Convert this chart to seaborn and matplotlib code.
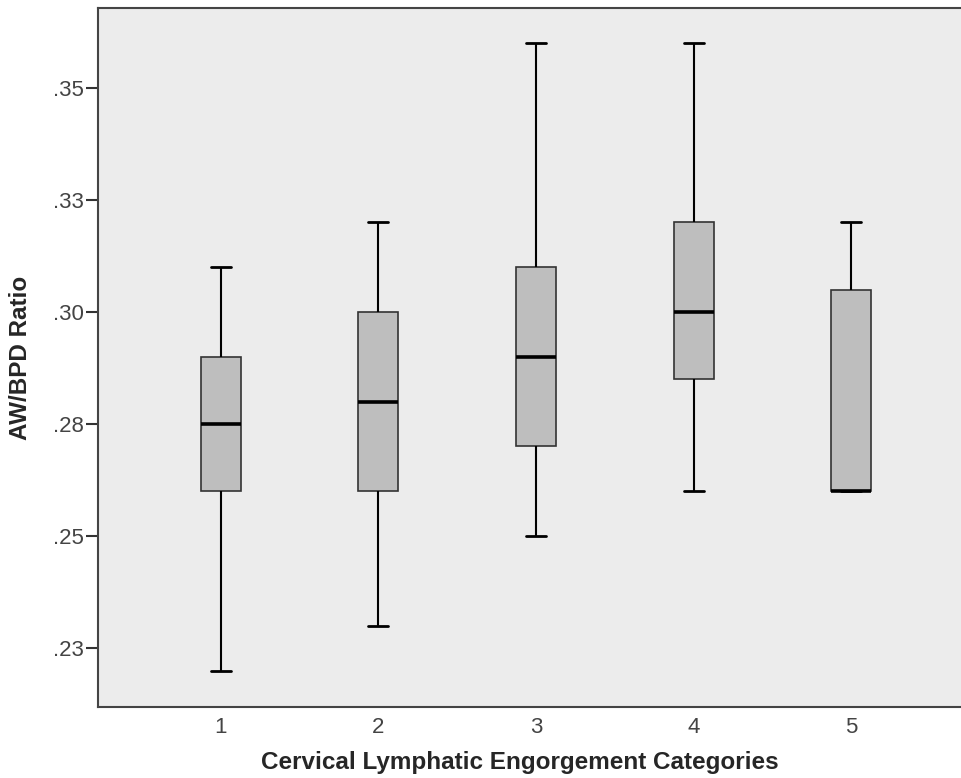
import numpy as np
import pandas as pd
import matplotlib
matplotlib.use("Agg")
import matplotlib.pyplot as plt
import seaborn as sns

# five-number summaries (min, Q1, median, Q3, max)
categories = ["1", "2", "3", "4", "5"]
lo_whisker = [0.220, 0.230, 0.250, 0.260, 0.260]
q1 = [0.260, 0.260, 0.270, 0.285, 0.260]
median = [0.275, 0.280, 0.290, 0.300, 0.260]
q3 = [0.290, 0.300, 0.310, 0.320, 0.305]
hi_whisker = [0.310, 0.320, 0.360, 0.360, 0.320]

ytick_vals = [0.225, 0.25, 0.275, 0.30, 0.325, 0.35]
ytick_labels = [".23", ".25", ".28", ".30", ".33", ".35"]

# build a small long table: 5 points per group give exactly these quartiles
rows = []
for i, cat in enumerate(categories):
    for v in [lo_whisker[i], q1[i], median[i], q3[i], hi_whisker[i]]:
        rows.append({"category": cat, "ratio": v})
df = pd.DataFrame(rows)

sns.set_style("white")
plt.rcParams["font.family"] = ["Liberation Sans", "DejaVu Sans"]

fig = plt.figure(figsize=(9.62, 7.78), dpi=100)
ax = fig.add_axes([0.1019, 0.0913, 0.9106, 0.8984])
ax.set_facecolor("#ECECEC")

sns.boxplot(data=df, x="category", y="ratio", order=categories, whis=np.inf,
            width=0.254, color="#BEBEBE", ax=ax,
            boxprops=dict(edgecolor="#333333", linewidth=1.2),
            whiskerprops=dict(color="black", linewidth=1.5),
            capprops=dict(color="black", linewidth=2.0),
            medianprops=dict(color="black", linewidth=2.6))

# flat grey fill as in the SPSS output
for patch in ax.patches:
    patch.set_facecolor("#BEBEBE")

ax.set_xlim(-0.78, 4.78)
ax.set_ylim(0.2119, 0.3678)
ax.set_yticks(ytick_vals)
ax.set_yticklabels(ytick_labels)

ax.tick_params(axis="y", direction="out", length=9, width=1.5, color="#333333",
               labelsize=16, labelcolor="#444444", pad=1, left=True)
ax.tick_params(axis="x", length=0, labelsize=16, labelcolor="#444444", pad=7)

for side in ["left", "bottom", "top", "right"]:
    ax.spines[side].set_color("#444444")
    ax.spines[side].set_linewidth(1.5)
    ax.spines[side].set_visible(True)

ax.set_xlabel("Cervical Lymphatic Engorgement Categories", fontsize=17.5,
              fontweight="bold")
ax.set_ylabel("AW/BPD Ratio", fontsize=17.5, fontweight="bold")
ax.xaxis.set_label_coords(0.482, -0.063)
ax.yaxis.set_label_coords(-0.0753, 0.5)

fig.savefig("out.png", dpi=100, facecolor="white")
